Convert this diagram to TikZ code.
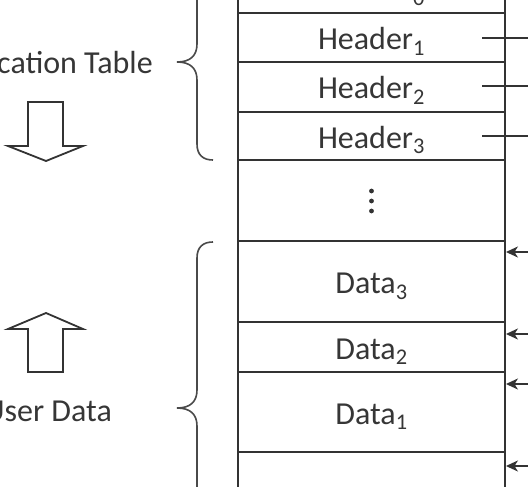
\documentclass[tikz,border=0pt]{standalone}
\usepackage{fontspec}
\setmainfont{Carlito}
\usetikzlibrary{arrows.meta}
\definecolor{ln}{HTML}{333333}
\definecolor{tx}{HTML}{363636}
\definecolor{br}{HTML}{4A4A4A}
\begin{document}
\begin{tikzpicture}[x=1pt,y=-1pt,
  cell/.style={draw=ln, line width=1.9pt, minimum width=267pt, inner sep=0pt, text=tx, text height=26pt, text depth=2pt, font=\fontsize{32}{38}\selectfont},
  lbl/.style={text=tx, font=\fontsize{32}{38}\selectfont, inner sep=0pt},
  brc/.style={draw=br, line width=1.6pt},
  blk/.style={draw=ln, line width=1.8pt, fill=white, line join=miter},
  ptr/.style={draw=ln, line width=1.8pt},
  parr/.style={ptr, arrows={-Stealth[length=12pt,width=11pt,inset=3.5pt]}}]
\useasboundingbox (0,0) rectangle (528,487);
\clip (0,0) rectangle (528,487);
% column cells
\node[cell, minimum height=50pt] (h0) at (371.5,-12) {Header\textsubscript{0}};
\node[cell, minimum height=49pt] (h1) at (371.5,37.5) {Header\textsubscript{1}};
\node[cell, minimum height=50pt] (h2) at (371.5,87) {Header\textsubscript{2}};
\node[cell, minimum height=48pt] (h3) at (371.5,136) {Header\textsubscript{3}};
\node[cell, minimum height=81pt] (dots) at (371.5,200.5) {};
\node[cell, minimum height=81pt] (d3) at (371.5,281.5) {Data\textsubscript{3}};
\node[cell, minimum height=50pt] (d2) at (371.5,347) {Data\textsubscript{2}};
\node[cell, minimum height=80pt] (d1) at (371.5,412) {Data\textsubscript{1}};
\node[cell, minimum height=88pt] (bt) at (371.5,496) {};
% vertical dots
\fill[ln] (dots.center) ++(0,-9.5) circle (2.4pt);
\fill[ln] (dots.center) ++(0,0.5) circle (2.4pt);
\fill[ln] (dots.center) ++(0,10.5) circle (2.4pt);
% header pointers
\coordinate (p1) at (482,38);
\coordinate (p2) at (482,86);
\coordinate (p3) at (482,136);
\coordinate (e1) at (540,38);
\coordinate (e2) at (540,86);
\coordinate (e3) at (540,136);
\draw[ptr] (p1) -- (e1);
\draw[ptr] (p2) -- (e2);
\draw[ptr] (p3) -- (e3);
% data pointers
\coordinate (q3) at (540,252);
\coordinate (q2) at (540,334);
\coordinate (q1) at (540,384);
\coordinate (q0) at (540,466);
\draw[parr] (q3) -- (q3 -| d3.east);
\draw[parr] (q2) -- (q2 -| d2.east);
\draw[parr] (q1) -- (q1 -| d1.east);
\draw[parr] (q0) -- (q0 -| bt.east);
% braces
\draw[brc] (213,-36) .. controls (203,-36) and (197,-31) .. (197,-20) -- (197,44)
  .. controls (197,56) and (190,62) .. (177,62)
  .. controls (190,62) and (197,68) .. (197,80) -- (197,144)
  .. controls (197,155) and (203,160) .. (213,160);
\draw[brc] (213,242) .. controls (203,242) and (197,247) .. (197,258) -- (197,390)
  .. controls (197,402) and (190,408) .. (177,408)
  .. controls (190,408) and (197,414) .. (197,426) -- (197,558)
  .. controls (197,569) and (203,574) .. (213,574);
% block arrows
\draw[blk] (28,102) -- (63,102) -- (63,146) -- (83,146) -- (46,161) -- (8,146) -- (28,146) -- cycle;
\draw[blk] (28,372) -- (63,372) -- (63,329) -- (83,329) -- (46,313) -- (8,329) -- (28,329) -- cycle;
% labels
\node[lbl, anchor=base east] (alloc) at (153,74) {Allocation Table};
\node[lbl, anchor=base east] (user) at (112,421) {User Data};
\end{tikzpicture}
\end{document}
